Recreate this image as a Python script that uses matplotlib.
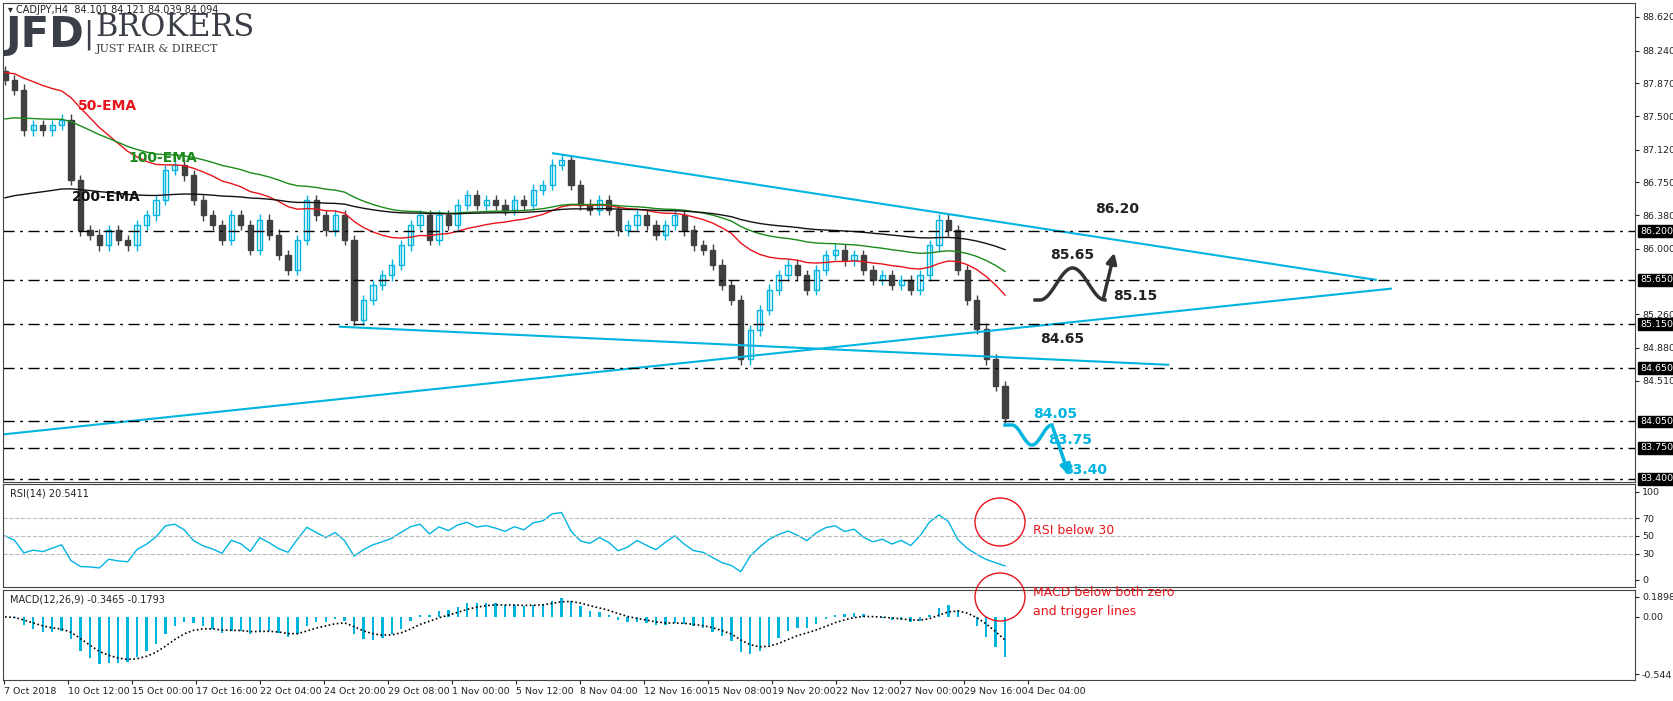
import matplotlib
matplotlib.use("Agg")
import matplotlib.pyplot as plt
from matplotlib.patches import Ellipse
import numpy as np

# closing prices, one candle per 8 hours
closes = [87.91, 87.80, 87.34, 87.40, 87.34, 87.40, 87.46, 86.78, 86.21, 86.16,
          86.04, 86.21, 86.10, 86.04, 86.27, 86.38, 86.55, 86.89, 86.95, 86.83,
          86.55, 86.38, 86.27, 86.10, 86.38, 86.27, 85.99, 86.33, 86.16, 85.93,
          85.76, 86.10, 86.55, 86.38, 86.21, 86.38, 86.10, 85.20, 85.42, 85.59,
          85.70, 85.82, 86.04, 86.27, 86.38, 86.10, 86.38, 86.27, 86.50, 86.61,
          86.50, 86.55, 86.50, 86.44, 86.55, 86.50, 86.67, 86.72, 86.95, 87.00,
          86.72, 86.50, 86.44, 86.55, 86.44, 86.21, 86.27, 86.38, 86.27, 86.16,
          86.27, 86.38, 86.21, 86.04, 85.99, 85.82, 85.59, 85.42, 84.75, 85.08,
          85.31, 85.54, 85.70, 85.82, 85.70, 85.54, 85.76, 85.93, 85.99, 85.87,
          85.93, 85.76, 85.65, 85.70, 85.59, 85.65, 85.54, 85.70, 86.04, 86.33,
          86.21, 85.76, 85.42, 85.10, 84.75, 84.45, 84.09]
ema_seeds = {"50-EMA": 88.00, "100-EMA": 87.45, "200-EMA": 86.55}
ema_periods = {"50-EMA": 25, "100-EMA": 50, "200-EMA": 100}
ema_colors = {"50-EMA": "#e8141b", "100-EMA": "#1a8a1a", "200-EMA": "#111111"}

levels = [86.20, 85.65, 85.15, 84.65, 84.05, 83.75, 83.40]
axis_ticks = [88.62, 88.24, 87.87, 87.50, 87.12, 86.75, 86.38, 86.00, 85.26, 84.88, 84.51]
date_labels = ["7 Oct 2018", "10 Oct 12:00", "15 Oct 00:00", "17 Oct 16:00", "22 Oct 04:00",
               "24 Oct 20:00", "29 Oct 08:00", "1 Nov 00:00", "5 Nov 12:00", "8 Nov 04:00",
               "12 Nov 16:00", "15 Nov 08:00", "19 Nov 20:00", "22 Nov 12:00", "27 Nov 00:00",
               "29 Nov 16:00", "4 Dec 04:00"]
# analyst trend lines: (bar index, price) endpoints
trend_upper = [(58.1, 87.08), (145.3, 85.65)]
trend_lower = [(35.5, 85.12), (123.3, 84.69)]
trend_rising = [(-0.5, 83.90), (146.9, 85.55)]

W, H = 1674, 701
N = len(closes)
step = 1000 / (N - 1)          # pixels per candle
CYAN = "#00b4e0"
DARK = "#404040"

def px2x(px):
    return (px - 5) / step

def py2p(py):
    return 88.62 - (py - 17) * 0.0113

def fbox(x0, y0, x1, y1):
    return [x0 / W, 1 - y1 / H, (x1 - x0) / W, (y1 - y0) / H]

plt.rcParams['font.family'] = ['DejaVu Sans']
fig = plt.figure(figsize=(W / 100, H / 100), dpi=100)
ax = fig.add_axes(fbox(3, 3, 1635, 482))
ax_rsi = fig.add_axes(fbox(3, 484, 1635, 587))
ax_macd = fig.add_axes(fbox(3, 590, 1635, 680))

c = np.array(closes)
o = np.r_[c[0] + 0.1, c[:-1]]
idx = np.arange(N)

# candles
for i in idx:
    up = c[i] >= o[i]
    col = CYAN if up else DARK
    hi = max(o[i], c[i]) + 0.06
    lo = min(o[i], c[i]) - 0.06
    ax.vlines(i, lo, hi, color=col, lw=1)
    ax.bar(i, max(abs(c[i] - o[i]), 0.01), bottom=min(o[i], c[i]), width=0.55,
           color="white" if up else DARK, edgecolor=col, lw=1)

# EMAs
for name, per in ema_periods.items():
    a = 2 / (per + 1)
    e = ema_seeds[name]
    vals = []
    for v in c:
        e += a * (v - e)
        vals.append(e)
    ax.plot(idx, vals, color=ema_colors[name], lw=1)

for (x0, p0), (x1, p1) in [trend_upper, trend_lower, trend_rising]:
    ax.plot([x0, x1], [p0, p1], color=CYAN, lw=1.5)

for lv in levels:
    ax.axhline(lv, color="black", lw=1, dashes=(8, 4, 2, 4))
    ax.text(1.003, lv, f"{lv:.3f}", transform=ax.get_yaxis_transform(), va="center", ha="left",
            fontsize=6.8, color="white", bbox=dict(boxstyle="square,pad=0.15", fc="black", ec="black"))

xl = (px2x(3), px2x(1635))
ax.set_ylim(py2p(482), py2p(3))
ax.set_yticks(axis_ticks)
ax.set_yticklabels([f"{t:.3f}" for t in axis_ticks])
ax.set_xticks([])

# level labels
for txt, px, py, col in [("86.20", 1095, 209, "#222"), ("85.65", 1050, 255, "#222"),
                         ("85.15", 1113, 296, "#222"), ("84.65", 1040, 339, "#222"),
                         ("84.05", 1033, 414, CYAN), ("83.75", 1048, 440, CYAN),
                         ("83.40", 1063, 470, CYAN)]:
    ax.text(px2x(px), py2p(py), txt, color=col, fontsize=10, fontweight="bold", va="center")

# scenario paths
t = np.linspace(0, 1, 60)
bxp = 1040 + 65 * t
byp = 300 - 16 * (1 - np.cos(2 * np.pi * t))
ax.plot(px2x(np.r_[1035, bxp]), py2p(np.r_[300, byp]), color="#333", lw=2.5)
ax.annotate("", xy=(px2x(1115), py2p(250)), xytext=(px2x(1103), py2p(300)),
            arrowprops=dict(arrowstyle="-|>", color="#333", lw=2.5, mutation_scale=15))
cxp = 1012 + 40 * t
cyp = 425 + 10 * (1 - np.cos(2 * np.pi * t))
ax.plot(px2x(np.r_[1005, cxp]), py2p(np.r_[425, cyp]), color=CYAN, lw=2.5)
ax.annotate("", xy=(px2x(1070), py2p(478)), xytext=(px2x(1052), py2p(425)),
            arrowprops=dict(arrowstyle="-|>", color=CYAN, lw=2.5, mutation_scale=15))

for name, (px, py) in {"50-EMA": (78, 106), "100-EMA": (128, 158), "200-EMA": (72, 197)}.items():
    ax.text(px2x(px), py2p(py), name, color=ema_colors[name], fontsize=10, fontweight="bold", va="center")

# RSI
d = np.diff(c, prepend=c[0])
g = np.clip(d, 0, None)
l = np.clip(-d, 0, None)
ag, al = 0.1, 0.1
rsi = []
for gi, li in zip(g, l):
    ag += (gi - ag) / 7
    al += (li - al) / 7
    rsi.append(100 - 100 / (1 + ag / al))
ax_rsi.plot(idx, rsi, color=CYAN, lw=1)
for lv in [70, 50, 30]:
    ax_rsi.axhline(lv, color="#bbbbbb", lw=0.8, ls="--")
ax_rsi.set_ylim(-8, 109)
ax_rsi.set_yticks([100, 70, 50, 30, 0])
ax_rsi.text(0.004, 0.88, "RSI(14) 20.5411", transform=ax_rsi.transAxes, fontsize=7, color="#222")

# MACD
def ema(x, n):
    out, e = [], x[0]
    for v in x:
        e += 2 / (n + 1) * (v - e)
        out.append(e)
    return np.array(out)
macd = ema(c, 7) - ema(c, 15)
sig = ema(macd, 5)
ax_macd.bar(idx, macd, width=0.25, color=CYAN)
ax_macd.plot(idx, sig, color="black", lw=1.2, ls=(0, (1, 1.5)))
ax_macd.set_ylim(-0.60, 0.256)
ax_macd.set_yticks([0.1898, 0.0, -0.544])
ax_macd.set_yticklabels(["0.1898", "0.00", "-0.544"])
ax_macd.text(0.004, 0.86, "MACD(12,26,9) -0.3465 -0.1793", transform=ax_macd.transAxes, fontsize=7, color="#222")

tick_pos = [px2x(4 + 64 * k) for k in range(len(date_labels))]
ax_macd.set_xticks(tick_pos)
ax_macd.set_xticklabels(date_labels, ha="left")
for a in (ax, ax_rsi, ax_macd):
    a.set_xlim(*xl)
    a.yaxis.tick_right()
    a.tick_params(labelsize=6.8, colors="#222", length=3, pad=2)
    for s in a.spines.values():
        s.set_color("#444")
ax_rsi.set_xticks([])

# annotations
for cy in (522, 597):
    fig.add_artist(Ellipse((1000 / W, 1 - cy / H), 50 / W, 48 / H, transform=fig.transFigure,
                           fill=False, ec="#e8141b", lw=1))
fig.text(1033 / W, 1 - 531 / H, "RSI below 30", color="#e8141b", fontsize=9, va="center")
fig.text(1033 / W, 1 - 602 / H, "MACD below both zero\nand trigger lines", color="#e8141b",
         fontsize=9, va="center", linespacing=1.6)

fig.text(8 / W, 1 - 10 / H, "\u25be CADJPY,H4  84.101 84.121 84.039 84.094", fontsize=7, color="#222", va="center")
fig.text(5 / W, 1 - 35 / H, "JFD", fontsize=30, fontweight="bold", color="#3a3f47", va="center")
fig.text(83 / W, 1 - 35 / H, "|", fontsize=22, color="#3a3f47", va="center")
fig.text(95 / W, 1 - 28 / H, "BROKERS", fontsize=22, family="DejaVu Serif", color="#3a3f47", va="center")
fig.text(96 / W, 1 - 49 / H, "JUST FAIR & DIRECT", fontsize=8, family="DejaVu Serif", color="#3a3f47", va="center")

fig.savefig("out.png", dpi=100)
